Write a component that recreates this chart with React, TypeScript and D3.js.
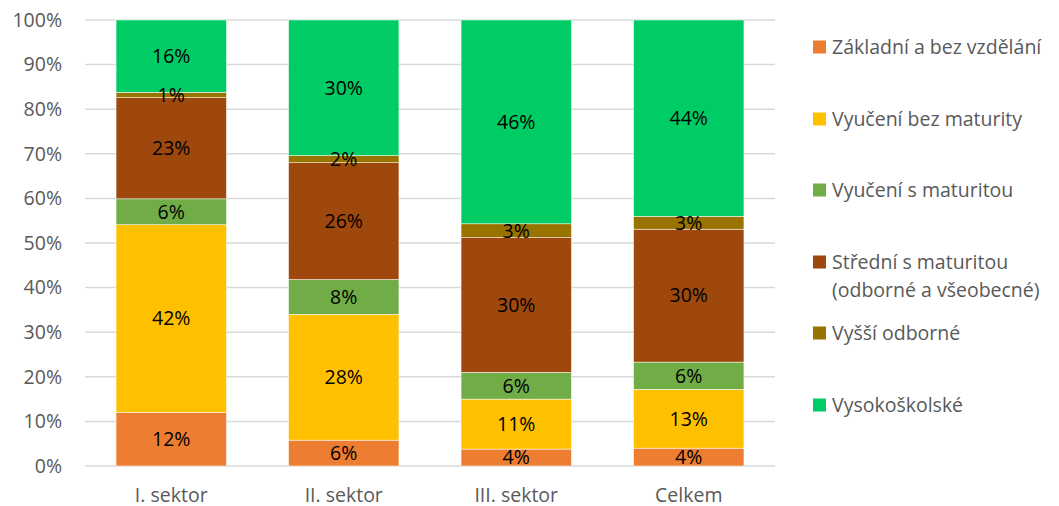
import * as React from 'react';
import * as d3 from 'd3';

const categories = ['I. sektor', 'II. sektor', 'III. sektor', 'Celkem'];
const seriesNames = [
  'Základní a bez vzdělání',
  'Vyučení bez maturity',
  'Vyučení s maturitou',
  'Střední s maturitou\n(odborné a všeobecné)',
  'Vyšší odborné',
  'Vysokoškolské',
];
const seriesColors = ['#ED7D31', '#FFC000', '#70AD47', '#9E480E', '#997300', '#00CC66'];
// values per series, in order of categories
const zakladni = [12.0, 5.8, 3.8, 4.0];
const vyuceniBez = [42.1, 28.2, 11.2, 13.2];
const vyuceniS = [5.8, 7.8, 6.0, 6.1];
const stredni = [22.7, 26.2, 30.2, 29.8];
const vyssi = [1.2, 1.6, 3.1, 2.9];
const vysoko = [16.2, 30.4, 45.7, 44.0];
const seriesValues = [zakladni, vyuceniBez, vyuceniS, stredni, vyssi, vysoko];
const yTicks = [0, 10, 20, 30, 40, 50, 60, 70, 80, 90, 100];

const W = 1059;
const H = 506;
const margin = { top: 20, right: 284, bottom: 40, left: 85 };
const FONT = '"Open Sans", "Noto Sans", sans-serif';
const FS = 19.5;

export default function App() {
  const innerW = W - margin.left - margin.right;
  const innerH = H - margin.top - margin.bottom;

  const x = d3.scaleBand<string>().domain(categories).range([0, innerW]).paddingInner(0.36).paddingOuter(0.18);
  const y = d3.scaleLinear().domain([0, 100]).range([innerH, 0]);

  const rows = categories.map((c, i) => {
    const r: any = { cat: c };
    seriesValues.forEach((s, k) => (r['s' + k] = s[i]));
    return r;
  });
  const stack = d3.stack<any>().keys(seriesNames.map((_, k) => 's' + k));
  const stacked = stack(rows);

  return (
    <svg width={W} height={H} style={{ position: 'absolute', left: 0, top: 0 }} fontFamily={FONT}>
      <g transform={`translate(${margin.left},${margin.top})`}>
        {yTicks.map((t) => (
          <g key={t}>
            <line x1={0} x2={innerW} y1={y(t)} y2={y(t)} stroke="#D9D9D9" strokeWidth={1.5} />
            <text x={-23} y={y(t)} dy="0.35em" textAnchor="end" fontSize={FS} fill="#595959">
              {t}%
            </text>
          </g>
        ))}
        {stacked.map((layer, k) => (
          <g key={k}>
            {layer.map((d, i) => {
              const x0 = x(categories[i])!;
              const y0 = y(d[1]);
              const h = y(d[0]) - y(d[1]);
              return (
                <rect key={i} x={x0} y={y0} width={x.bandwidth()} height={h} fill={seriesColors[k]} stroke="#ffffff" strokeWidth={0.5} />
              );
            })}
          </g>
        ))}
        {stacked.map((layer, k) => (
          <g key={'l' + k}>
            {layer.map((d, i) => (
              <text
                key={i}
                x={x(categories[i])! + x.bandwidth() / 2}
                y={(y(d[0]) + y(d[1])) / 2}
                dy="0.35em"
                textAnchor="middle"
                fontSize={FS}
                fill="#000000"
              >
                {Math.round(d[1] - d[0])}%
              </text>
            ))}
          </g>
        ))}
        {categories.map((c) => (
          <text key={c} x={x(c)! + x.bandwidth() / 2} y={innerH + 29} dy="0.35em" textAnchor="middle" fontSize={FS} fill="#595959">
            {c}
          </text>
        ))}
      </g>
      <g transform="translate(813,0)">
        {seriesNames.map((n, k) => {
          const cy = [47, 119, 190, 262, 333, 405][k];
          const lines = n.split('\n');
          return (
            <g key={k}>
              <rect x={0} y={cy - 6.5} width={13} height={13} fill={seriesColors[k]} />
              {lines.map((ln, j) => (
                <text key={j} x={19} y={cy + j * 28} dy="0.35em" fontSize={FS} fill="#595959">
                  {ln}
                </text>
              ))}
            </g>
          );
        })}
      </g>
    </svg>
  );
}
